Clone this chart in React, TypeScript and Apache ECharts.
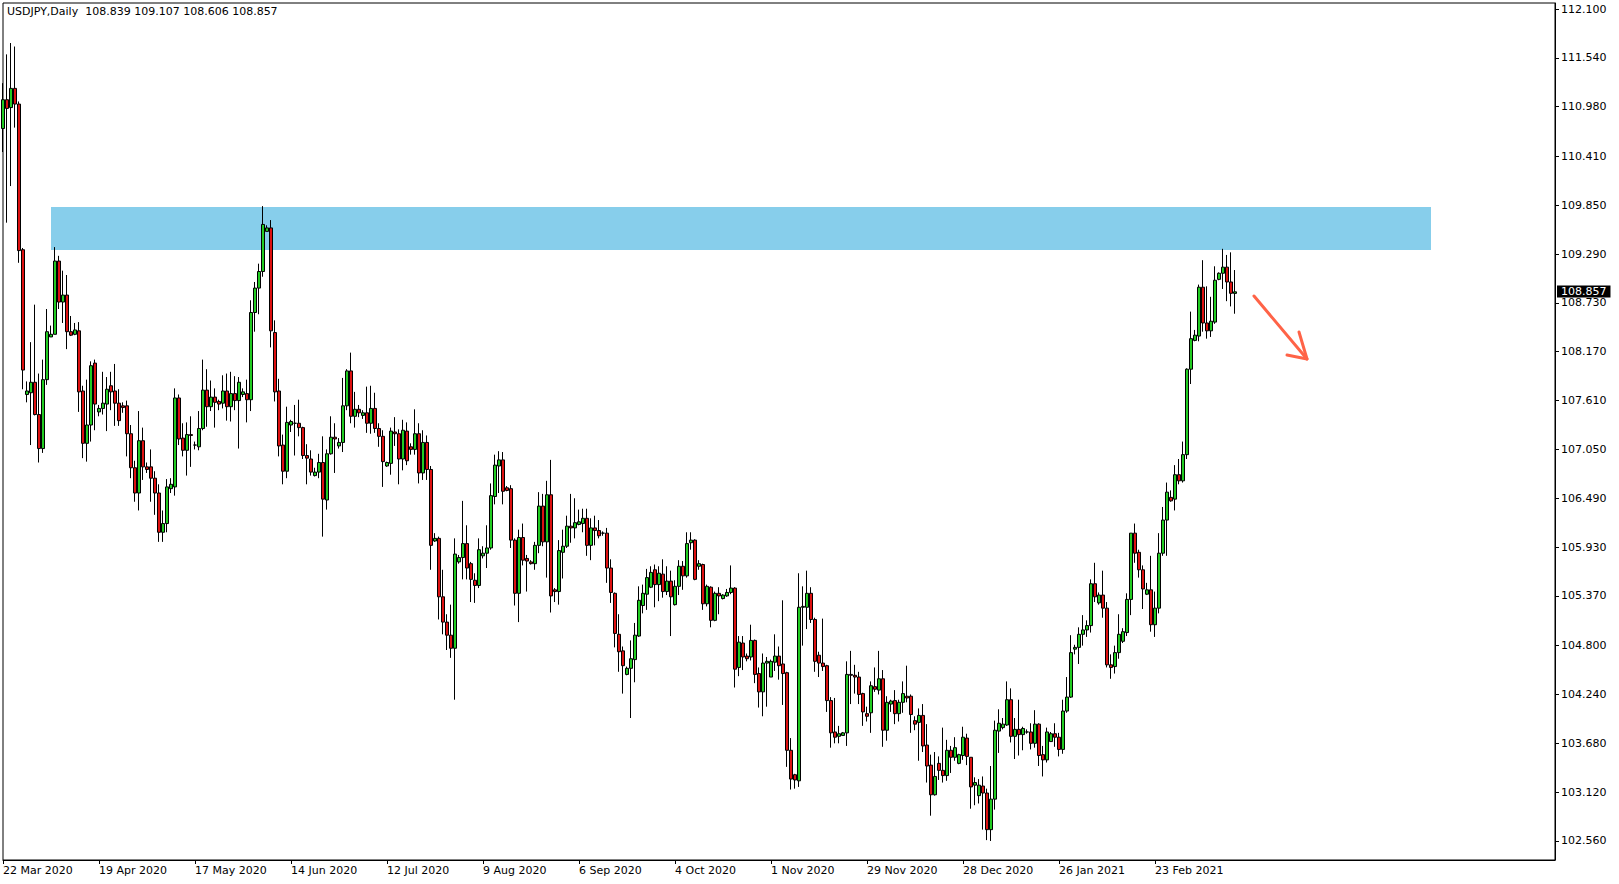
import React, { useEffect, useRef } from "react";
import * as echarts from "echarts";

// ---- data ----
const symbolTitle = "USDJPY,Daily";
const lastBarOHLC = [108.839, 109.107, 108.606, 108.857];

const opens = [
  110.73, 111.06, 110.97, 111.19, 111.01, 109.34, 107.68, 107.70, 107.82, 107.45,
  107.06, 107.85, 108.34, 108.37, 109.21, 108.74, 108.82, 108.40, 108.37, 108.41,
  107.72, 107.12, 107.33, 108.04, 107.48, 107.52, 107.57, 107.78, 107.72, 107.58,
  107.55, 107.55, 107.23, 106.84, 106.55, 107.15, 106.85, 106.85, 106.72, 106.55,
  106.10, 106.20, 106.60, 106.62, 107.64, 107.18, 107.04, 107.22, 107.10, 107.08,
  107.29, 107.73, 107.54, 107.65, 107.60, 107.58, 107.72, 107.54, 107.69, 107.61,
  107.68, 107.69, 107.62, 108.62, 108.90, 109.09, 109.55, 109.59, 108.39, 107.72,
  107.10, 106.80, 107.33, 107.35, 107.35, 107.30, 106.98, 106.94, 106.75, 106.79,
  106.90, 106.47, 107.00, 107.19, 107.09, 107.13, 107.55, 107.95, 107.43, 107.51,
  107.44, 107.47, 107.35, 107.52, 107.29, 107.20, 106.86, 106.89, 107.25, 107.23,
  106.94, 107.26, 107.08, 107.05, 107.23, 106.78, 107.13, 106.82, 106.00, 106.03,
  105.36, 105.07, 104.92, 104.77, 105.76, 105.81, 105.97, 105.74, 105.55, 105.49,
  105.83, 105.86, 105.92, 106.51, 106.86, 106.93, 106.61, 106.60, 106.01, 105.40,
  106.04, 105.80, 105.76, 105.74, 105.95, 106.40, 105.99, 106.53, 105.44, 105.42,
  105.87, 105.94, 106.17, 106.15, 106.19, 106.20, 106.26, 105.95, 106.15, 106.12,
  106.09, 106.09, 105.69, 105.40, 104.93, 104.74, 104.47, 104.54, 104.64, 104.91,
  105.26, 105.39, 105.47, 105.67, 105.50, 105.62, 105.42, 105.54, 105.27, 105.48,
  105.71, 105.60, 105.98, 106.01, 105.71, 105.73, 105.28, 105.47, 105.09, 105.40,
  105.34, 105.37, 105.41, 105.46, 104.55, 104.83, 104.68, 104.67, 104.86, 104.48,
  104.27, 104.60, 104.44, 104.61, 104.68, 104.59, 104.49, 103.60, 103.32, 103.25,
  105.24, 105.24, 105.40, 105.10, 104.69, 104.60, 104.57, 104.17, 103.81, 103.76,
  103.77, 103.80, 104.47, 104.46, 104.44, 104.25, 104.02, 104.03, 104.33, 104.29,
  104.42, 103.83, 104.13, 104.17, 104.02, 104.15, 104.22, 104.22, 103.94, 103.92,
  104.00, 103.66, 103.43, 103.09, 103.45, 103.37, 103.31, 103.60, 103.52, 103.45,
  103.54, 103.74, 103.52, 103.20, 103.08, 103.19, 103.11, 102.69, 103.04, 103.82,
  103.86, 103.89, 104.18, 103.76, 103.84, 103.78, 103.81, 103.81, 103.68, 103.90,
  103.55, 103.49, 103.70, 103.79, 103.75, 103.61, 104.05, 104.21, 104.76, 104.78,
  104.93, 104.98, 105.03, 105.51, 105.29, 105.38, 105.23, 104.58, 104.56, 104.72,
  104.85, 104.95, 105.33, 106.09, 105.87, 105.67, 105.39, 105.44, 105.04, 105.23,
  105.86, 106.24, 106.50, 106.48, 106.76, 106.69, 106.99, 107.97, 108.30, 108.35,
  108.91, 108.50, 108.41, 108.51, 109.00, 109.07, 109.14, 108.97, 108.839,
];

const highs = [
  111.25, 111.58, 111.71, 111.67, 111.04, 109.36, 107.83, 108.28, 108.71, 107.92,
  108.08, 108.66, 108.47, 109.37, 109.27, 109.10, 109.05, 108.58, 108.50, 108.51,
  107.78, 107.85, 108.06, 108.08, 107.56, 107.94, 107.88, 107.94, 108.03, 107.74,
  107.59, 107.61, 107.33, 106.92, 107.49, 107.30, 106.90, 107.05, 106.80, 106.65,
  106.35, 106.71, 106.72, 107.75, 107.68, 107.35, 107.36, 107.43, 107.14, 107.49,
  108.08, 107.97, 107.84, 107.75, 107.62, 107.90, 107.92, 107.94, 107.89, 107.88,
  107.75, 107.85, 108.76, 108.97, 109.18, 109.84, 109.62, 109.68, 108.53, 107.86,
  107.22, 107.54, 107.39, 107.56, 107.62, 107.31, 107.11, 107.04, 106.84, 107.00,
  107.20, 107.05, 107.43, 107.35, 107.18, 107.87, 107.97, 108.16, 107.71, 107.56,
  107.50, 107.77, 107.78, 107.70, 107.35, 107.27, 106.91, 107.30, 107.42, 107.28,
  107.39, 107.36, 107.12, 107.51, 107.35, 107.27, 107.21, 106.86, 106.09, 106.05,
  105.67, 105.16, 105.27, 106.03, 105.84, 106.46, 106.18, 105.76, 105.63, 106.03,
  105.94, 106.18, 106.66, 106.99, 107.03, 107.02, 106.63, 106.64, 106.03, 106.13,
  106.20, 105.84, 105.78, 105.99, 106.56, 106.54, 106.69, 106.93, 105.46, 106.01,
  106.13, 106.29, 106.54, 106.49, 106.36, 106.37, 106.37, 106.26, 106.29, 106.24,
  106.11, 106.15, 105.79, 105.41, 105.16, 104.79, 104.56, 104.86, 105.06, 105.48,
  105.50, 105.68, 105.71, 105.73, 105.71, 105.79, 105.71, 105.66, 105.55, 105.78,
  105.77, 106.10, 106.10, 106.02, 105.78, 105.74, 105.50, 105.48, 105.42, 105.47,
  105.39, 105.45, 105.72, 105.47, 104.91, 104.91, 104.71, 105.04, 104.87, 104.55,
  104.71, 104.67, 104.64, 104.93, 104.79, 105.32, 104.50, 103.74, 103.33, 105.63,
  105.48, 105.66, 105.47, 105.12, 104.73, 105.11, 104.58, 104.21, 104.20, 103.88,
  103.81, 104.62, 104.74, 104.58, 104.50, 104.26, 104.10, 104.39, 104.55, 104.74,
  104.52, 104.22, 104.18, 104.29, 104.18, 104.39, 104.57, 104.24, 103.99, 104.08,
  104.13, 103.90, 103.55, 103.58, 103.53, 103.86, 103.72, 103.65, 103.75, 103.56,
  103.87, 103.79, 103.52, 103.29, 103.27, 103.30, 103.16, 103.42, 103.94, 104.07,
  103.97, 104.39, 104.31, 103.97, 104.18, 103.87, 103.84, 103.91, 104.06, 103.91,
  103.65, 103.86, 103.81, 103.91, 103.80, 104.18, 104.44, 104.92, 104.81, 105.01,
  105.15, 105.09, 105.56, 105.75, 105.41, 105.66, 105.30, 104.70, 104.80, 105.16,
  105.00, 105.40, 106.09, 106.20, 105.90, 105.72, 105.52, 105.83, 105.42, 106.09,
  106.39, 106.67, 106.58, 106.87, 106.94, 107.14, 107.98, 108.63, 108.42, 108.94,
  109.22, 108.92, 108.80, 109.15, 109.08, 109.35, 109.28, 109.31, 109.107,
];

const lows = [
  110.46, 109.65, 110.07, 110.74, 109.19, 107.74, 107.59, 107.10, 107.44, 106.90,
  107.01, 107.79, 108.34, 108.37, 108.66, 108.50, 108.20, 108.35, 108.36, 107.48,
  106.95, 106.91, 107.14, 107.27, 107.43, 107.45, 107.26, 107.50, 107.32, 107.32,
  107.47, 106.97, 106.72, 106.45, 106.35, 106.70, 106.78, 106.45, 106.30, 105.99,
  105.99, 106.10, 106.55, 106.52, 107.10, 106.97, 106.75, 106.85, 107.05, 107.04,
  107.27, 107.31, 107.49, 107.30, 107.50, 107.52, 107.38, 107.37, 107.50, 107.06,
  107.65, 107.36, 107.49, 108.40, 108.60, 109.03, 109.55, 108.22, 107.60, 106.97,
  106.65, 106.72, 107.25, 106.98, 107.20, 106.94, 106.65, 106.75, 106.74, 106.72,
  106.05, 106.36, 106.99, 106.78, 107.06, 107.02, 107.50, 107.35, 107.30, 107.42,
  107.40, 107.24, 107.23, 107.24, 107.08, 106.62, 106.85, 106.76, 107.09, 106.65,
  106.81, 106.87, 106.99, 106.99, 106.66, 106.70, 106.70, 105.67, 105.99, 105.10,
  104.93, 104.75, 104.66, 104.18, 105.74, 105.56, 105.56, 105.30, 105.29, 105.46,
  105.80, 105.69, 105.90, 106.42, 106.55, 106.42, 106.57, 105.92, 105.26, 105.07,
  105.72, 105.42, 105.73, 105.67, 105.86, 105.94, 105.58, 105.18, 105.30, 105.27,
  105.57, 105.92, 105.98, 106.03, 106.18, 106.10, 105.83, 105.78, 105.95, 106.03,
  106.06, 105.52, 105.29, 104.78, 104.50, 104.25, 104.46, 103.97, 104.38, 104.90,
  105.17, 105.21, 105.46, 105.24, 105.31, 105.35, 105.38, 104.91, 105.26, 105.38,
  105.44, 105.58, 105.90, 105.55, 105.67, 105.21, 105.25, 105.01, 105.08, 105.16,
  105.33, 105.36, 105.39, 104.32, 104.45, 104.52, 104.62, 104.63, 104.37, 104.09,
  103.99, 104.10, 104.44, 104.51, 104.41, 104.12, 103.41, 103.15, 103.16, 103.18,
  104.80, 104.99, 105.06, 104.50, 104.44, 104.51, 104.04, 103.63, 103.68, 103.68,
  103.77, 103.65, 104.13, 104.25, 104.13, 103.88, 103.93, 103.80, 104.27, 104.24,
  103.64, 103.71, 104.04, 103.90, 103.93, 104.03, 104.15, 103.80, 103.83, 103.48,
  103.58, 103.23, 102.85, 103.08, 103.26, 103.23, 103.25, 103.34, 103.48, 103.44,
  103.49, 103.43, 102.93, 102.97, 102.99, 102.69, 102.57, 102.56, 102.92, 103.57,
  103.84, 103.88, 103.69, 103.50, 103.54, 103.60, 103.79, 103.61, 103.63, 103.42,
  103.30, 103.46, 103.70, 103.64, 103.53, 103.56, 104.03, 104.20, 104.70, 104.59,
  104.80, 104.90, 104.95, 105.30, 105.27, 105.12, 104.55, 104.42, 104.48, 104.65,
  104.83, 104.91, 105.15, 105.75, 105.58, 105.22, 105.38, 104.96, 104.90, 105.17,
  105.83, 105.83, 106.45, 106.35, 106.65, 106.67, 106.94, 107.80, 108.29, 108.29,
  108.40, 108.32, 108.34, 108.49, 108.99, 108.89, 108.75, 108.69, 108.606,
];

const closes = [
  111.06, 110.96, 111.19, 111.01, 109.33, 107.96, 107.72, 107.82, 107.45, 107.06,
  107.85, 108.40, 108.37, 109.21, 108.74, 108.82, 108.40, 108.36, 108.42, 107.71,
  107.12, 107.33, 108.01, 107.57, 107.52, 107.58, 107.74, 107.71, 107.58, 107.38,
  107.53, 107.23, 106.84, 106.55, 107.15, 106.85, 106.82, 106.72, 106.55, 106.10,
  106.20, 106.62, 106.65, 107.64, 107.17, 107.04, 107.22, 107.21, 107.10, 107.29,
  107.73, 107.54, 107.65, 107.59, 107.57, 107.72, 107.54, 107.69, 107.61, 107.82,
  107.71, 107.62, 108.62, 108.90, 109.09, 109.63, 109.59, 108.41, 107.71, 107.09,
  106.80, 107.36, 107.37, 107.35, 107.30, 106.98, 106.95, 106.79, 106.79, 106.90,
  106.48, 107.00, 107.19, 107.17, 107.13, 107.55, 107.95, 107.43, 107.51, 107.47,
  107.47, 107.35, 107.52, 107.29, 107.20, 106.91, 106.90, 107.26, 107.23, 106.94,
  107.27, 106.92, 107.05, 107.23, 106.78, 107.13, 106.82, 105.95, 106.03, 105.36,
  105.07, 104.92, 104.77, 105.85, 105.81, 105.97, 105.69, 105.56, 105.49, 105.90,
  105.86, 105.92, 106.52, 106.87, 106.93, 106.57, 106.58, 106.01, 105.40, 106.04,
  105.78, 105.77, 105.74, 105.95, 106.40, 105.99, 106.53, 105.37, 105.42, 105.89,
  105.94, 106.17, 106.15, 106.21, 106.22, 106.26, 105.95, 106.15, 106.12, 106.06,
  106.09, 105.69, 105.41, 104.94, 104.73, 104.57, 104.54, 104.65, 104.92, 105.32,
  105.40, 105.58, 105.64, 105.50, 105.63, 105.42, 105.54, 105.36, 105.48, 105.71,
  105.60, 105.97, 106.01, 105.56, 105.74, 105.28, 105.48, 105.09, 105.40, 105.37,
  105.38, 105.41, 105.46, 104.53, 104.84, 104.67, 104.65, 104.86, 104.47, 104.27,
  104.60, 104.62, 104.62, 104.68, 104.57, 104.48, 103.60, 103.27, 103.26, 105.24,
  105.25, 105.40, 105.10, 104.62, 104.60, 104.56, 104.17, 103.80, 103.75, 103.79,
  103.80, 104.47, 104.46, 104.44, 104.24, 104.04, 103.99, 104.34, 104.30, 104.42,
  103.83, 104.15, 104.165, 104.02, 104.15, 104.25, 104.20, 104.01, 103.90, 104.00,
  103.65, 103.42, 103.09, 103.30, 103.37, 103.31, 103.60, 103.52, 103.63, 103.55,
  103.75, 103.53, 103.18, 103.23, 103.20, 103.11, 102.69, 103.04, 103.83, 103.91,
  103.90, 104.18, 103.76, 103.84, 103.78, 103.85, 103.81, 103.68, 103.90, 103.54,
  103.49, 103.81, 103.79, 103.75, 103.61, 104.05, 104.21, 104.72, 104.78, 104.93,
  104.98, 105.03, 105.51, 105.36, 105.38, 105.23, 104.58, 104.55, 104.72, 104.93,
  104.96, 105.33, 106.09, 105.86, 105.67, 105.45, 105.44, 105.04, 105.23, 105.86,
  106.24, 106.56, 106.46, 106.76, 106.69, 106.99, 107.97, 108.32, 108.36, 108.91,
  108.50, 108.41, 108.52, 108.99, 109.07, 109.14, 108.97, 108.84, 108.857,
];

const priceTicks = [
  102.56, 103.12, 103.68, 104.24, 104.8, 105.37, 105.93, 106.49, 107.05,
  107.61, 108.17, 108.73, 109.29, 109.85, 110.41, 110.98, 111.54, 112.1,
];
const priceMin = 102.342;
const priceMax = 112.169;

// resistance zone: bar index range and price range
const zoneBars = [12, 357];
const zonePrices = [109.337, 109.83];

// calendar: first bar date, total slots (bars + empty future space), label step in bars
const firstBarDate = [2020, 2, 22];
const totalSlots = 389;
const labelStep = 24;
const monthNames = ["Jan", "Feb", "Mar", "Apr", "May", "Jun", "Jul", "Aug", "Sep", "Oct", "Nov", "Dec"];

function buildDates(): string[] {
  const out: string[] = [];
  const d = new Date(Date.UTC(firstBarDate[0], firstBarDate[1], firstBarDate[2]));
  while (out.length < totalSlots) {
    const dow = d.getUTCDay();
    const m = d.getUTCMonth();
    const day = d.getUTCDate();
    const holiday = (m === 11 && day === 25) || (m === 0 && day === 1);
    if (dow !== 6 && !holiday) {
      out.push(`${day} ${monthNames[m]} ${d.getUTCFullYear()}`);
    }
    d.setUTCDate(d.getUTCDate() + 1);
  }
  return out;
}

export default function App() {
  const ref = useRef<HTMLDivElement>(null);

  useEffect(() => {
    if (!ref.current) return;
    const chart = echarts.init(ref.current, null, { renderer: "svg" });
    const dates = buildDates();
    const nBars = opens.length;
    const candles = opens.map((o, i) => [o, closes[i], lows[i], highs[i]]);
    const showIdx = (i: number) => i % labelStep === 0 && i < nBars;
    const font = "DejaVu Sans";
    const last = lastBarOHLC[3];

    chart.setOption({
      animation: false,
      backgroundColor: "#ffffff",
      textStyle: { fontFamily: font },
      grid: {
        left: 3,
        right: 64,
        top: 3,
        bottom: 24,
        show: true,
        borderColor: "#000000",
        borderWidth: 1,
        backgroundColor: "transparent",
      },
      xAxis: {
        type: "category",
        data: dates,
        boundaryGap: false,
        axisLine: { show: true, lineStyle: { color: "#000000", width: 1 } },
        axisTick: {
          show: true,
          interval: (i: number) => showIdx(i),
          length: 4,
          lineStyle: { color: "#000000" },
        },
        axisLabel: {
          interval: (i: number) => showIdx(i),
          align: "left",
          color: "#000000",
          fontSize: 11,
          fontFamily: font,
          margin: 5,
          hideOverlap: false,
        },
        splitLine: { show: false },
      },
      yAxis: {
        type: "value",
        position: "right",
        min: priceMin,
        max: priceMax,
        axisLine: { show: true, lineStyle: { color: "#000000", width: 1 } },
        axisTick: {
          show: true,
          length: 4,
          customValues: priceTicks,
          lineStyle: { color: "#000000" },
        },
        axisLabel: {
          customValues: priceTicks,
          formatter: (v: number) => v.toFixed(3),
          color: "#000000",
          fontSize: 11,
          fontFamily: font,
          margin: 6,
        },
        splitLine: { show: false },
      },
      series: [
        {
          type: "line",
          data: [],
          silent: true,
          z: 1,
          markArea: {
            silent: true,
            itemStyle: { color: "#87CEEB", opacity: 1 },
            data: [
              [
                { xAxis: zoneBars[0], yAxis: zonePrices[1] },
                { xAxis: zoneBars[1], yAxis: zonePrices[0] },
              ],
            ],
          },
        },
        {
          type: "candlestick",
          data: candles,
          barWidth: 3,
          clip: false,
          z: 3,
          itemStyle: {
            color: "#22cc22",
            color0: "#dd1111",
            borderColor: "#000000",
            borderColor0: "#000000",
            borderColorDoji: "#000000",
            borderWidth: 1,
          },
          markLine: {
            silent: true,
            symbol: ["none", "none"],
            lineStyle: { color: "rgba(0,0,0,0)", width: 0 },
            label: {
              show: true,
              position: "end",
              distance: 2,
              formatter: last.toFixed(3),
              color: "#ffffff",
              backgroundColor: "#000000",
              padding: [1, 4, 0, 4],
              fontSize: 11,
              fontFamily: font,
            },
            data: [{ yAxis: last }],
          },
        },
      ],
      graphic: [
        {
          type: "text",
          left: 7,
          top: 6,
          z: 10,
          style: {
            text: `${symbolTitle}  ${lastBarOHLC.map((v) => v.toFixed(3)).join(" ")}`,
            fill: "#000000",
            font: `11px "${font}"`,
          },
        },
        {
          type: "polyline",
          z: 10,
          shape: { points: [[1254, 296], [1307, 359]] },
          style: { stroke: "#FF6347", lineWidth: 3, fill: null, lineCap: "round" },
        },
        {
          type: "polyline",
          z: 10,
          shape: { points: [[1299, 332], [1307, 359], [1287, 355]] },
          style: { stroke: "#FF6347", lineWidth: 3, fill: null, lineCap: "round", lineJoin: "round" },
        },
      ],
    });

    return () => chart.dispose();
  }, []);

  return (
    <div
      ref={ref}
      style={{ position: "fixed", left: 0, top: 0, width: 1619, height: 884, background: "#fff" }}
    />
  );
}
